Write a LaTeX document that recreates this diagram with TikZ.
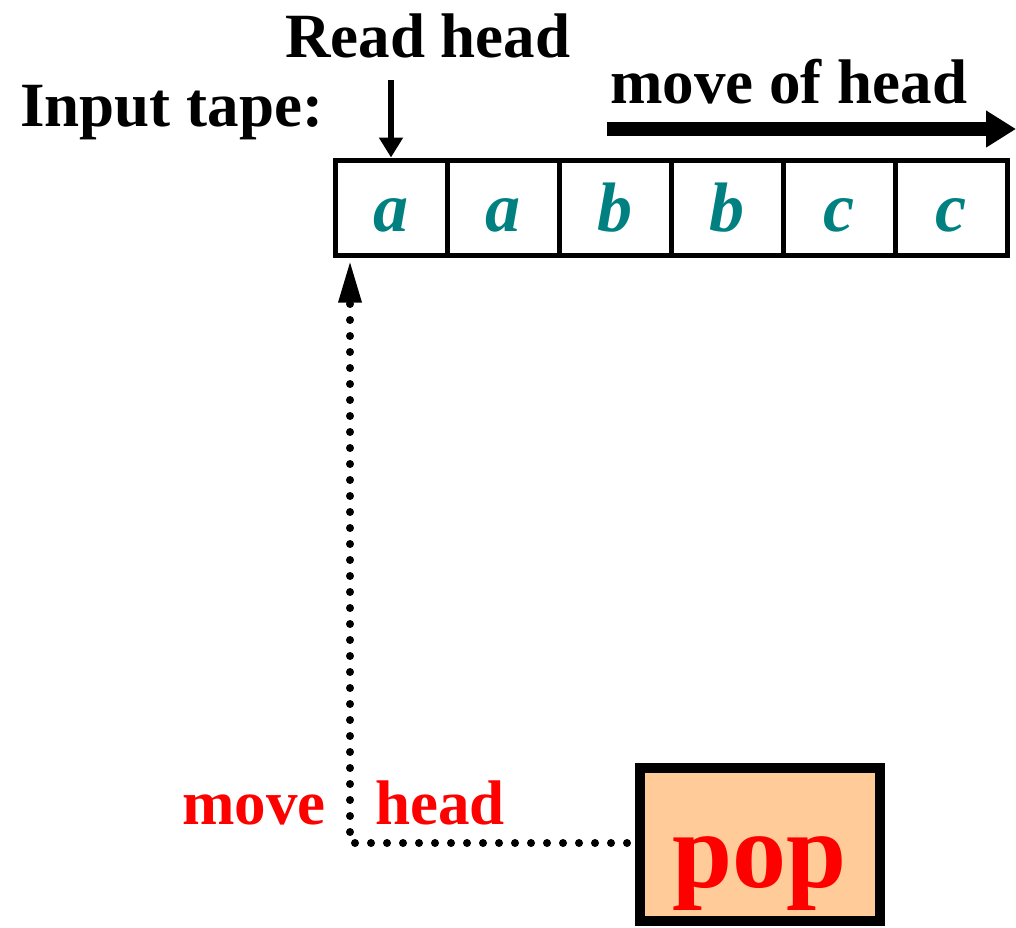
\documentclass[tikz,border=0pt]{standalone}
\usepackage{fontspec}
\setmainfont{Liberation Serif}
\usetikzlibrary{arrows.meta}
\definecolor{tapeteal}{HTML}{008080}
\definecolor{popfill}{HTML}{FFCC99}
\definecolor{lblred}{HTML}{FF0000}
\begin{document}
\begin{tikzpicture}[x=1pt,y=-1pt,
  lbl/.style={inner sep=0pt,anchor=base west,font=\fontsize{63}{70}\selectfont\bfseries},
  redlbl/.style={lbl,text=lblred},
  cell/.style={draw,line width=5pt,minimum width=112pt,minimum height=95pt,inner sep=0pt},
  sym/.style={inner sep=0pt,anchor=base,text=tapeteal,font=\fontsize{70}{77}\selectfont\bfseries\itshape},
  popbox/.style={draw,line width=10pt,fill=popfill,minimum width=240pt,minimum height=153pt,inner sep=0pt},
  dotline/.style={line width=8pt,line cap=round,dash pattern=on 0pt off 16pt}
]
\useasboundingbox (0,0) rectangle (1016,927);
% tape
\foreach \i/\s in {1/a,2/a,3/b,4/b,5/c,6/c}{
  \node[cell] (c\i) at ({335+112*(\i-0.5)},207.5) {};
  \node[sym] (s\i) at ({335+112*(\i-0.5)},231) {\s};
}
% labels
\node[lbl] (readhead) at (285,57) {Read head};
\node[lbl] (inputtape) at (20,126) {Input tape:};
\node[lbl] (movehead) at (610,103) {move of head};
\node[redlbl] (movelbl) at (182,824) {move};
\node[redlbl] (headlbl) at (375,824) {head};
% pop box
\node[popbox] (pop) at (760,844.5) {};
\node[inner sep=0pt,anchor=base,text=lblred,font=\fontsize{108}{120}\selectfont\bfseries] (poptext) at (760,887) {pop};
% read head arrow
\coordinate (rhstart) at (391,80);
\draw[line width=5.5pt,-{Triangle[length=20pt,width=23pt]}] (rhstart) -- (rhstart |- c1.north);
% move of head arrow
\coordinate (mvstart) at (607,129);
\coordinate (mvend) at (1016,129);
\draw[line width=14pt,-{Triangle[length=30pt,width=35pt]}] (mvstart) -- (mvend);
% dotted connector
\coordinate (corner) at (350,843);
\draw[dotline] ([xshift=-8pt]pop.west |- corner) -- (corner) -- ([yshift=-40pt]corner |- c1.south);
\draw[line width=0pt,-{Triangle[length=40pt,width=24pt]}] ([yshift=-44pt]corner |- c1.south) -- ([yshift=-5pt]corner |- c1.south);
\end{tikzpicture}
\end{document}
